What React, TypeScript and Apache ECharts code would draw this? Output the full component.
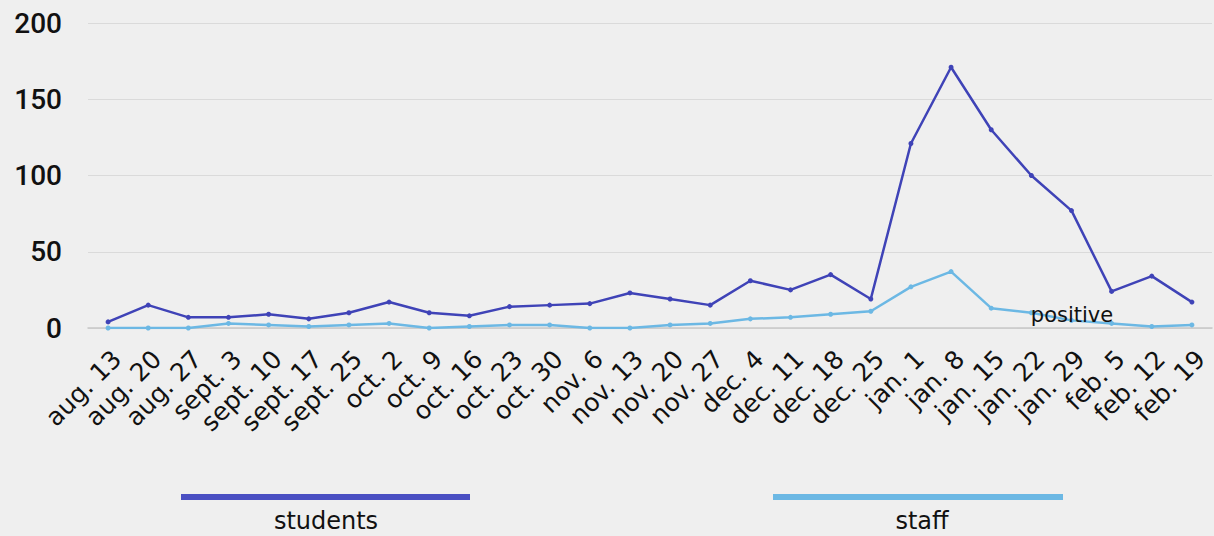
import React, { useEffect, useRef } from "react";
import * as echarts from "echarts";

const categories = [
  "aug. 13", "aug. 20", "aug. 27", "sept. 3", "sept. 10", "sept. 17", "sept. 25",
  "oct. 2", "oct. 9", "oct. 16", "oct. 23", "oct. 30", "nov. 6", "nov. 13",
  "nov. 20", "nov. 27", "dec. 4", "dec. 11", "dec. 18", "dec. 25", "jan. 1",
  "jan. 8", "jan. 15", "jan. 22", "jan. 29", "feb. 5", "feb. 12", "feb. 19",
];
const students = [4, 15, 7, 7, 9, 6, 10, 17, 10, 8, 14, 15, 16, 23, 19, 15, 31, 25, 35, 19, 121, 171, 130, 100, 77, 24, 34, 17];
const staff = [0, 0, 0, 3, 2, 1, 2, 3, 0, 1, 2, 2, 0, 0, 2, 3, 6, 7, 9, 11, 27, 37, 13, 10, 5, 3, 1, 2];
const yTicks = [0, 50, 100, 150, 200];

const STUDENT_COLOR = "#3f43b7";
const STAFF_COLOR = "#6cb8e4";
const FONT = "'DejaVu Sans', sans-serif";

export default function App() {
  const ref = useRef<HTMLDivElement>(null);
  useEffect(() => {
    if (!ref.current) return;
    const chart = echarts.init(ref.current, undefined, { renderer: "svg" });
    chart.setOption({
      animation: false,
      backgroundColor: "#efefef",
      textStyle: { fontFamily: FONT },
      grid: { left: 88, right: 2, top: 23, bottom: 208, containLabel: false },
      xAxis: {
        type: "category",
        data: categories,
        boundaryGap: true,
        axisLine: { show: true, lineStyle: { color: "#c8c8c8", width: 1.5 } },
        axisTick: { show: false },
        axisLabel: {
          rotate: 45,
          fontSize: 25,
          color: "#111",
          margin: 18,
          interval: 0,
          verticalAlign: "top",
          fontFamily: FONT,
        },
      },
      yAxis: {
        type: "value",
        min: yTicks[0],
        max: yTicks[yTicks.length - 1],
        interval: 50,
        axisLine: { show: false },
        axisTick: { show: false },
        splitLine: { lineStyle: { color: "#dadada", width: 1 } },
        axisLabel: { fontSize: 28, color: "#111", margin: 26, fontWeight: 500, fontFamily: "Roboto, sans-serif" },
      },
      series: [
        {
          name: "students",
          type: "line",
          data: students,
          symbol: "circle",
          symbolSize: 5,
          lineStyle: { color: STUDENT_COLOR, width: 2.5 },
          itemStyle: { color: STUDENT_COLOR },
          z: 3,
        },
        {
          name: "staff",
          type: "line",
          data: staff,
          symbol: "circle",
          symbolSize: 5,
          lineStyle: { color: STAFF_COLOR, width: 2.5 },
          itemStyle: { color: STAFF_COLOR },
          z: 2,
        },
      ],
      graphic: [
        { type: "rect", shape: { x: 181, y: 494, width: 289, height: 6 }, style: { fill: "#4a4fc2" } },
        {
          type: "text", x: 326, y: 521,
          style: { text: "students", fontSize: 24, fill: "#111", align: "center", verticalAlign: "middle", fontFamily: FONT },
        },
        { type: "rect", shape: { x: 773, y: 494, width: 290, height: 6 }, style: { fill: STAFF_COLOR } },
        {
          type: "text", x: 922, y: 521,
          style: { text: "staff", fontSize: 24, fill: "#111", align: "center", verticalAlign: "middle", fontFamily: FONT },
        },
        {
          type: "text", x: 1072, y: 315, z: 10,
          style: { text: "positive", fontSize: 21, fill: "#111", align: "center", verticalAlign: "middle", fontFamily: FONT },
        },
      ],
    });
    return () => chart.dispose();
  }, []);
  return (
    <div
      ref={ref}
      style={{ position: "fixed", left: 0, top: 0, width: 1214, height: 536 }}
    />
  );
}
